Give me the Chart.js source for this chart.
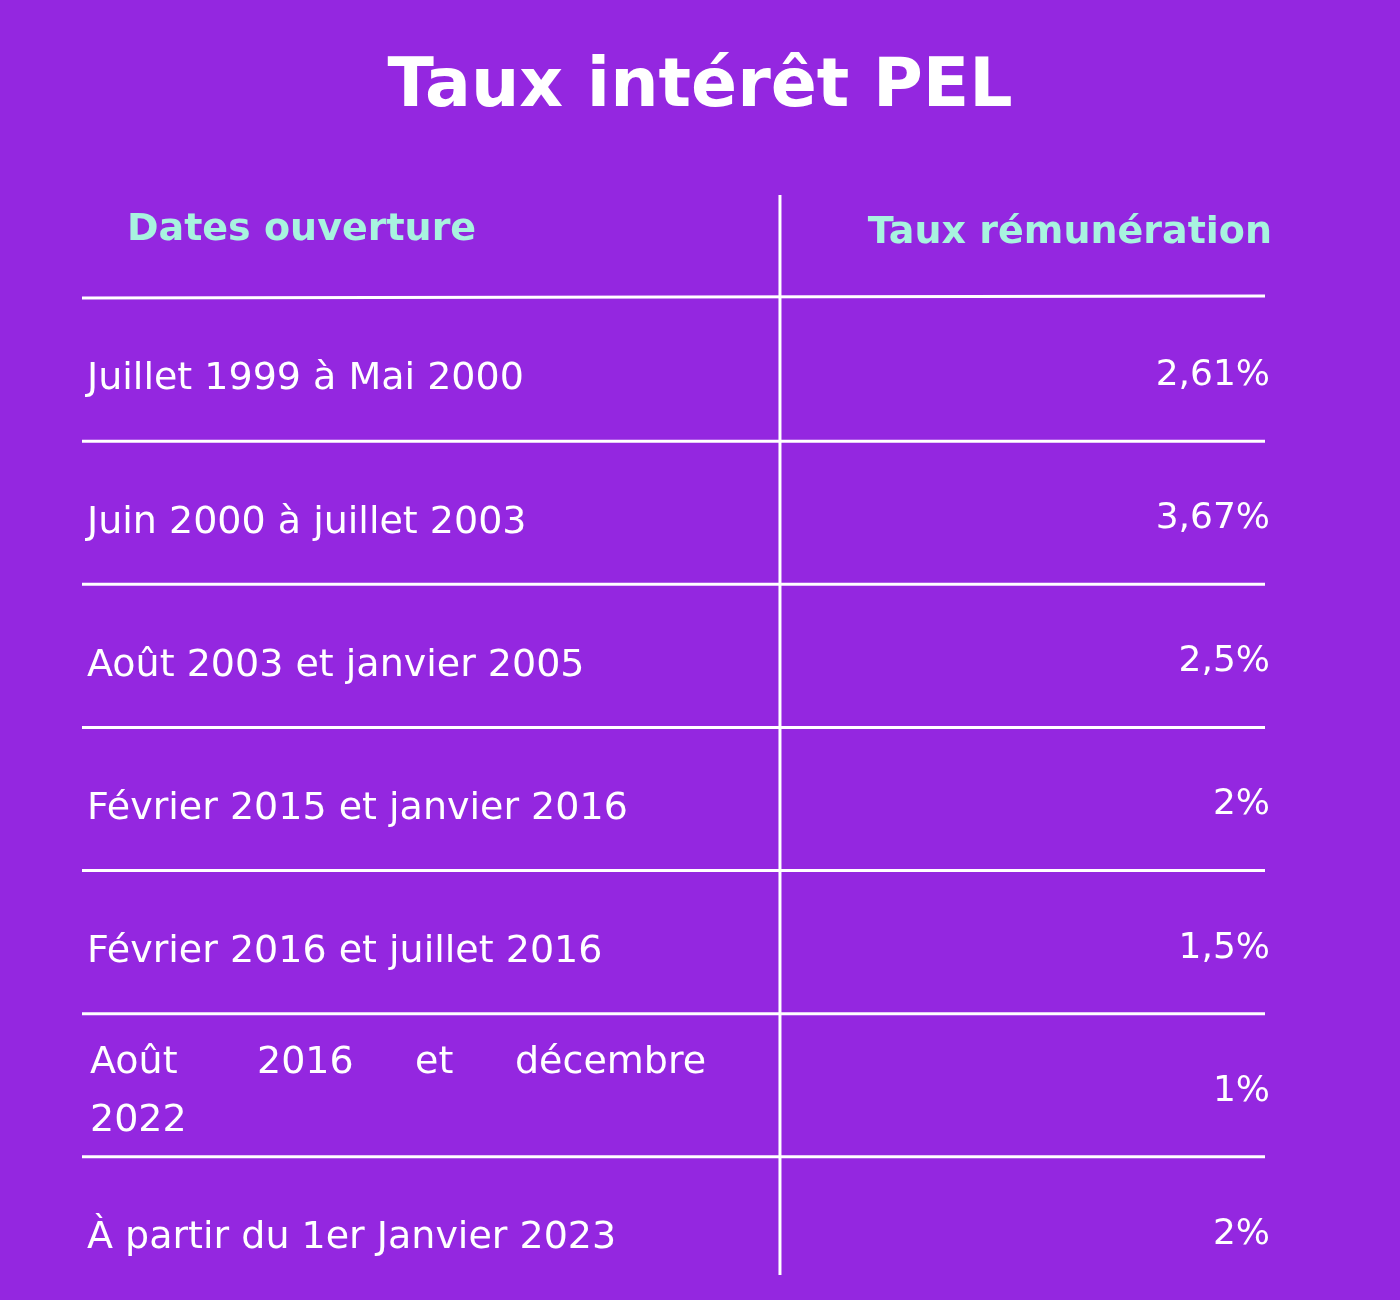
<!DOCTYPE html>
<html><head><meta charset="utf-8">
<script src="https://cdn.jsdelivr.net/npm/chart.js@4"></script>
<style>html,body{margin:0;padding:0;background:#9427e0}#c{display:block}</style>
</head><body>
<div style="width:1400px;height:1300px"><canvas id="c"></canvas></div>
<script>
const title = 'Taux intérêt PEL';
const headers = ['Dates ouverture', 'Taux rémunération'];
const periods = [
  'Juillet 1999 à Mai 2000',
  'Juin 2000 à juillet 2003',
  'Août 2003 et janvier 2005',
  'Février 2015 et janvier 2016',
  'Février 2016 et juillet 2016',
  ['Août', '2016', 'et', 'décembre', '2022'],
  'À partir du 1er Janvier 2023'
];
const rates = [2.61, 3.67, 2.5, 2, 1.5, 1, 2];
const rateLabels = ['2,61%', '3,67%', '2,5%', '2%', '1,5%', '1%', '2%'];

const tablePlugin = {
  id: 'tablePlugin',
  afterDraw(chart) {
    const ctx = chart.ctx, y = chart.scales.y, x = chart.scales.x;
    const left = x.getPixelForValue(0), right = x.getPixelForValue(1);
    const mid = x.getPixelForValue(0.59);
    const half = (y.getPixelForValue(1) - y.getPixelForValue(0)) / 2;
    ctx.save();
    ctx.fillStyle = '#ffffff';
    ctx.font = 'bold 68px "DejaVu Sans"';
    ctx.textAlign = 'center'; ctx.textBaseline = 'middle';
    ctx.fillText(title, 700, 88);
    ctx.fillStyle = '#a8f3df';
    ctx.font = 'bold 38px "DejaVu Sans"';
    ctx.textAlign = 'left';
    ctx.fillText(headers[0], left + 45, 230);
    ctx.textAlign = 'right';
    ctx.fillText(headers[1], right + 7, 233);
    ctx.strokeStyle = '#ffffff'; ctx.lineWidth = 3;
    ctx.beginPath(); ctx.moveTo(mid, 195); ctx.lineTo(mid, 1275); ctx.stroke();
    for (let i = 0; i < periods.length; i++) {
      const cy = y.getPixelForValue(i);
      if (i < periods.length - 1) {
        ctx.beginPath(); ctx.moveTo(left, cy + half); ctx.lineTo(right, cy + half); ctx.stroke();
      }
      ctx.fillStyle = '#ffffff';
      ctx.font = '38px "DejaVu Sans"';
      ctx.textAlign = 'left';
      const p = periods[i];
      if (Array.isArray(p)) {
        const xs = [90, 257, 415, 515];
        ctx.fillText(p[0], xs[0], cy - 22);
        ctx.fillText(p[1], xs[1], cy - 22);
        ctx.fillText(p[2], xs[2], cy - 22);
        ctx.fillText(p[3], xs[3], cy - 22);
        ctx.fillText(p[4], xs[0], cy + 36);
      } else ctx.fillText(p, left + 5, cy + 10);
      ctx.font = '36px "DejaVu Sans"';
      ctx.textAlign = 'right';
      ctx.fillText(rateLabels[i], right + 5, cy + 6);
    }
    ctx.beginPath(); ctx.moveTo(left, 298); ctx.lineTo(right, 296); ctx.stroke();
    ctx.restore();
  }
};

new Chart(document.getElementById('c'), {
  type: 'bar',
  data: { labels: periods.map(p => Array.isArray(p) ? p.join(' ') : p),
    datasets: [{ data: rates.map(r => r / 10), backgroundColor: 'rgba(0,0,0,0)' }] },
  options: {
    indexAxis: 'y', responsive: true, maintainAspectRatio: false, animation: false,
    layout: { padding: { top: 298, left: 82, right: 135, bottom: 0 } },
    plugins: { legend: { display: false }, tooltip: { enabled: false } },
    scales: {
      x: { display: false, min: 0, max: 1 },
      y: { display: false }
    }
  },
  plugins: [tablePlugin]
});
</script>
</body></html>
